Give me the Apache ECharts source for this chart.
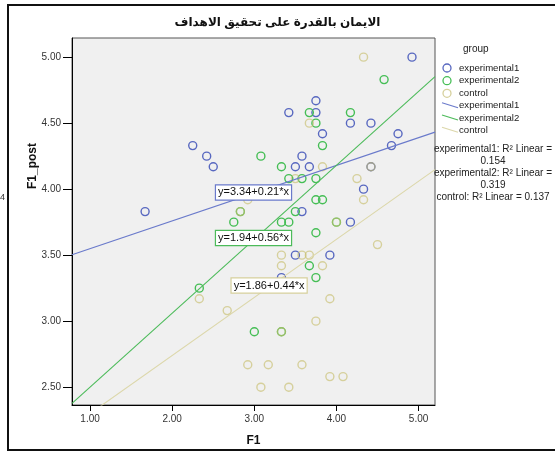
<!DOCTYPE html>
<html><head><meta charset="utf-8">
<script src="https://cdn.jsdelivr.net/npm/echarts@6/dist/echarts.min.js"></script>
<style>html,body{margin:0;padding:0;background:#fff}#c{width:555px;height:452px}</style>
</head><body><div id="c"></div>
<script>
const titleText = 'الايمان بالقدرة على تحقيق الاهداف';
const groups = ['experimental1', 'experimental2', 'control'];
const exp1 = [[1.67,3.83],[2.25,4.33],[2.42,4.25],[2.5,4.17],[3.42,4.58],[3.75,4.67],[3.75,4.58],[4.17,4.5],[4.42,4.5],[3.83,4.42],[4.75,4.42],[4.67,4.33],[3.58,4.25],[3.5,4.17],[3.67,4.17],[4.42,4.17],[4.33,4.0],[3.58,3.83],[4.17,3.75],[3.5,3.5],[3.92,3.5],[3.33,3.33],[4.92,5.0]];
const exp2 = [[4.58,4.83],[3.67,4.58],[4.17,4.58],[3.75,4.5],[3.83,4.33],[3.08,4.25],[3.33,4.17],[3.42,4.08],[3.58,4.08],[3.75,4.08],[3.75,3.92],[3.83,3.92],[2.83,3.83],[3.5,3.83],[2.75,3.75],[3.33,3.75],[3.42,3.75],[4.0,3.75],[3.75,3.67],[3.67,3.42],[3.75,3.33],[2.33,3.25],[3.0,2.92],[3.33,2.92]];
const ctrl = [[4.33,5.0],[3.67,4.5],[3.83,4.17],[4.42,4.17],[4.25,4.08],[3.5,4.08],[4.33,3.92],[2.92,3.92],[2.83,3.83],[4.0,3.75],[4.5,3.58],[3.33,3.5],[3.58,3.5],[3.67,3.5],[3.33,3.42],[3.83,3.42],[2.33,3.17],[3.92,3.17],[2.67,3.08],[3.75,3.0],[3.33,2.92],[2.92,2.67],[3.17,2.67],[3.58,2.67],[3.92,2.58],[4.08,2.58],[3.08,2.5],[3.42,2.5]];
const intercepts = [3.34, 1.94, 1.86];
const slopes = [0.21, 0.56, 0.44];
const r2 = ['0.154', '0.319', '0.137'];
const xTicks = [1, 2, 3, 4, 5];
const yTicks = [2.5, 3, 3.5, 4, 4.5, 5];
const eqPos = [[2.99, 3.975], [2.99, 3.63], [3.18, 3.27]];

const X_MIN = 0.78, X_MAX = 5.2, Y_MIN = 2.365, Y_MAX = 5.145;
const ptColors = ['#5868c0', '#45be55', '#c8bf6f'];
const ptOpacity = [1, 1, 0.65];
const legColors = ['#5868c0', '#45be55', '#d6d09c'];
const lineColors = ['#6a7acb', '#4cbb5a', '#dcd7aa'];
const boxColors = ['#6a7acb', '#4cbb5a', '#d6d09c'];
const FONT = 'Liberation Sans, Arial, DejaVu Sans, sans-serif';
const pts = [exp1, exp2, ctrl];

const chart = echarts.init(document.getElementById('c'));
const series = [];
pts.forEach((d, i) => {
  series.push({
    name: groups[i], type: 'scatter', data: d, symbol: 'circle', symbolSize: 8,
    itemStyle: { color: 'transparent', borderColor: ptColors[i], borderWidth: 1.4, opacity: ptOpacity[i] },
    emphasis: { disabled: true }, z: 2
  });
});
groups.forEach((g, i) => {
  const a = intercepts[i], b = slopes[i];
  series.push({
    name: g + ' fit', type: 'line', symbol: 'none', clip: true, silent: true,
    data: [[X_MIN, a + b * X_MIN], [X_MAX, a + b * X_MAX]],
    lineStyle: { color: lineColors[i], width: 1.1 }, z: 3,
    markPoint: {
      symbol: 'rect', symbolSize: 0, silent: true,
      data: [{ coord: eqPos[i] }],
      label: {
        show: true, position: 'inside',
        formatter: 'y=' + a.toFixed(2) + '+' + b.toFixed(2) + '*x',
        backgroundColor: '#fff', borderColor: boxColors[i], borderWidth: 1.2,
        padding: [2, 2, 1, 2], color: '#111', fontSize: 11, fontFamily: FONT
      }
    }
  });
});

const legendG = [];
legendG.push({ type: 'text', left: 463, top: 44, style: { text: 'group', fontSize: 10, fontFamily: FONT, fill: '#222' } });
const rowY = [68, 80.7, 93.3, 105.7, 118, 130.3];
groups.forEach((g, i) => {
  legendG.push({ type: 'circle', shape: { cx: 447, cy: rowY[i], r: 4 }, style: { fill: 'none', stroke: legColors[i], lineWidth: 1.3 } });
  legendG.push({ type: 'text', x: 459, y: rowY[i], style: { text: g, fontSize: 9.6, fontFamily: FONT, fill: '#222', verticalAlign: 'middle' } });
});
groups.forEach((g, i) => {
  const y = rowY[3 + i];
  legendG.push({ type: 'line', shape: { x1: 442, y1: y - 3, x2: 458, y2: y + 2 }, style: { stroke: lineColors[i], lineWidth: 1.2 } });
  legendG.push({ type: 'text', x: 459, y: y, style: { text: g, fontSize: 9.6, fontFamily: FONT, fill: '#222', verticalAlign: 'middle' } });
});
const r2Lines = [
  groups[0] + ': R² Linear =', r2[0],
  groups[1] + ': R² Linear =', r2[1],
  groups[2] + ': R² Linear = ' + r2[2]
];
const r2Y = [149, 161.5, 173.5, 185.5, 197.5];
r2Lines.forEach((t, i) => {
  legendG.push({ type: 'text', x: 493, y: r2Y[i], style: { text: t, fontSize: 10, fontFamily: FONT, fill: '#222', align: 'center', verticalAlign: 'middle' } });
});

chart.setOption({
  animation: false,
  backgroundColor: '#fff',
  title: { text: titleText, left: 'center', top: 12, textStyle: { fontSize: 12, fontWeight: 'bold', color: '#111', fontFamily: FONT } },
  grid: { left: 72, top: 38, right: 120, bottom: 44, show: true, backgroundColor: '#f0f0f0', borderColor: '#555', borderWidth: 1 },
  xAxis: {
    type: 'value', min: X_MIN, max: X_MAX,
    name: 'F1', nameLocation: 'middle', nameGap: 30,
    nameTextStyle: { fontSize: 12, fontWeight: 'bold', color: '#111', fontFamily: FONT },
    axisLine: { show: true, onZero: false, lineStyle: { color: '#000', width: 1 } },
    axisTick: { show: true, length: 6, customValues: xTicks, lineStyle: { color: '#000' } },
    axisLabel: { customValues: xTicks, margin: 9, fontSize: 10, color: '#333', fontFamily: FONT, formatter: v => v.toFixed(2) },
    splitLine: { show: false }
  },
  yAxis: {
    type: 'value', min: Y_MIN, max: Y_MAX,
    axisLine: { show: true, onZero: false, lineStyle: { color: '#000', width: 1 } },
    axisTick: { show: true, length: 9, customValues: yTicks, lineStyle: { color: '#000' } },
    axisLabel: { customValues: yTicks, margin: 11, fontSize: 10, color: '#333', fontFamily: FONT, formatter: v => v.toFixed(2) },
    splitLine: { show: false }
  },
  series: series,
  graphic: [
    { type: 'rect', shape: { x: 8, y: 5, width: 560, height: 445 }, style: { fill: 'none', stroke: '#111', lineWidth: 2 }, z: 100 },
    { type: 'text', x: 33, y: 166, rotation: Math.PI / 2, style: { text: 'F1_post', fontSize: 12, fontWeight: 'bold', fill: '#111', fontFamily: FONT, align: 'center', verticalAlign: 'middle' } },
    { type: 'text', x: 0, y: 193, style: { text: '4', fontSize: 9, fill: '#333', fontFamily: FONT } }
  ].concat(legendG)
});
</script></body></html>
